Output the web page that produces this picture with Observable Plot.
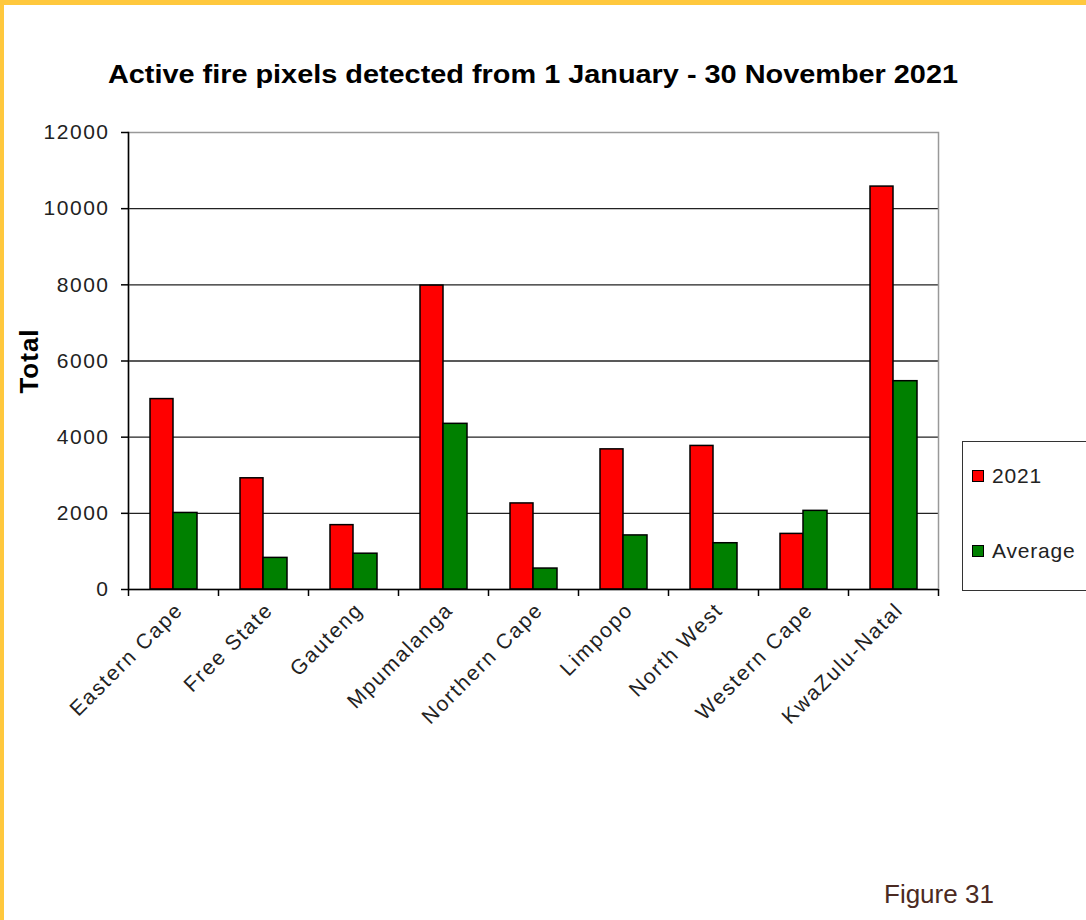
<!DOCTYPE html>
<html>
<head>
<meta charset="utf-8">
<script src="https://cdn.jsdelivr.net/npm/d3@7"></script>
<script src="https://cdn.jsdelivr.net/npm/@observablehq/plot@0.6"></script>
<style>
  body { margin: 0; background: #fff; font-family: "Liberation Sans", Arial, sans-serif; }
  #page { position: relative; width: 1086px; height: 920px; overflow: hidden; background: #fff; }
  .border-top { position: absolute; left: 0; top: 0; width: 1086px; height: 5px; background: #FFC83D; }
  .border-left { position: absolute; left: 0; top: 0; width: 4px; height: 920px; background: #FFC83D; }
  #title { height: 110px; box-sizing: border-box; padding-top: 61px; line-height: 26px; font-size: 26px; font-weight: bold; color: #000; text-align: center; white-space: nowrap; }
  #title span { display: inline-block; transform: scaleX(1.11); position: relative; left: -10px; }
  #legend { position: absolute; left: 962px; top: 441px; width: 150px; height: 148px; border: 1.5px solid #333; background: #fff; }
  .item { position: absolute; left: 9px; display: flex; align-items: center; font-size: 21px; color: #222; letter-spacing: 0.8px; }
  .swatch { width: 10px; height: 10px; border: 1.5px solid #000; margin-right: 8px; }
  #figure { position: absolute; left: 884px; top: 881px; font-size: 26px; line-height: 26px; color: #4B2A22; }
  svg g[aria-label="y-axis tick label"] text { letter-spacing: 1.5px; }
  svg g[aria-label="x-axis tick label"] text { letter-spacing: 1.8px; }
  svg g[aria-label="y-axis label"] text { font-weight: bold; font-size: 26px; letter-spacing: 1px; fill: #000; }
</style>
</head>
<body>
<div id="page">
  <div id="title"><span>Active fire pixels detected from 1 January - 30 November 2021</span></div>
  <div id="chart"></div>
  <div id="legend"></div>
  <div id="figure">Figure 31</div>
  <div class="border-top"></div>
  <div class="border-left"></div>
</div>
<script>
const provinces = ["Eastern Cape", "Free State", "Gauteng", "Mpumalanga", "Northern Cape", "Limpopo", "North West", "Western Cape", "KwaZulu-Natal"];
const values2021 = [5000, 2920, 1690, 7980, 2260, 3680, 3770, 1460, 10580];
const valuesAverage = [2010, 830, 940, 4350, 550, 1420, 1215, 2065, 5470];
const seriesNames = ["2021", "Average"];
const seriesColors = ["#FF0000", "#008000"];
const yTicks = [0, 2000, 4000, 6000, 8000, 10000, 12000];

const rows = provinces.flatMap((p, i) => [
  {province: p, series: seriesNames[0], value: values2021[i]},
  {province: p, series: seriesNames[1], value: valuesAverage[i]}
]);

const chart = Plot.plot({
  width: 1086,
  height: 690,
  marginTop: 22,
  marginLeft: 128,
  marginRight: 148,
  marginBottom: 211,
  style: {fontFamily: "'Liberation Sans', Arial, sans-serif", fontSize: "21px", color: "#222", background: "transparent", overflow: "visible"},
  x: {domain: provinces, padding: 0, axis: null},
  y: {domain: [0, 12000], axis: null},
  color: {domain: seriesNames, range: seriesColors},
  marks: [
    Plot.ruleY(yTicks.filter(t => t > 0 && t < 12000), {stroke: "#222", strokeWidth: 1.3}),
    Plot.frame({stroke: "#999", strokeWidth: 1.5}),
    Plot.barY(rows.filter(d => d.series === seriesNames[0]), {x: "province", y: "value", fill: "series", stroke: "#000", strokeWidth: 1.5, insetLeft: 22, insetRight: 45}),
    Plot.barY(rows.filter(d => d.series === seriesNames[1]), {x: "province", y: "value", fill: "series", stroke: "#000", strokeWidth: 1.5, insetLeft: 45, insetRight: 21}),
    Plot.ruleY([0], {stroke: "#000", strokeWidth: 1.5}),
    Plot.frame({anchor: "left", stroke: "#000", strokeWidth: 1.5}),
    Plot.axisY(yTicks, {tickSize: 7, tickPadding: 12, tickFormat: "d", stroke: "#000", strokeWidth: 1.5, fill: "#222", fontSize: 21, label: "Total", labelArrow: "none", labelAnchor: "center", labelOffset: 109}),
    Plot.axisX(provinces, {tickSize: 7, fill: "none", stroke: "#000", strokeWidth: 1.5, dx: -45, label: null}),
    Plot.axisX([provinces[provinces.length - 1]], {tickSize: 7, fill: "none", stroke: "#000", strokeWidth: 1.5, dx: 45, label: null}),
    Plot.axisX(provinces, {tickSize: 0, tickRotate: -45, tickPadding: 17, dx: 6, fill: "#222", fontSize: 21, label: null})
  ]
});
document.getElementById("chart").appendChild(chart);

const legend = document.getElementById("legend");
seriesNames.forEach((name, i) => {
  const item = document.createElement("div");
  item.className = "item";
  item.style.top = (i === 0 ? 22 : 97) + "px";
  const sw = document.createElement("div");
  sw.className = "swatch";
  sw.style.background = seriesColors[i];
  const label = document.createElement("span");
  label.textContent = name;
  item.appendChild(sw);
  item.appendChild(label);
  legend.appendChild(item);
});
</script>
</body>
</html>
